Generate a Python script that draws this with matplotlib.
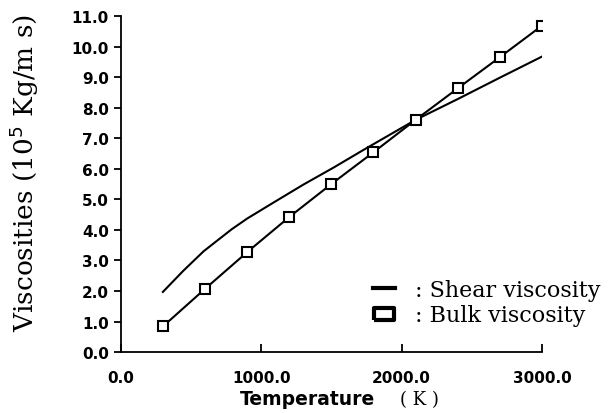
import matplotlib
matplotlib.use("Agg")
import matplotlib.pyplot as plt
from matplotlib.lines import Line2D

# Data
temp_bulk = [300, 600, 900, 1200, 1500, 1800, 2100, 2400, 2700, 3000]
bulk_visc = [0.84, 2.07, 3.27, 4.42, 5.50, 6.54, 7.60, 8.63, 9.65, 10.68]

temp_shear = [300, 445, 590, 790, 900, 1090, 1300, 1520, 1730, 2100, 2400, 2700, 3000]
shear_visc = [1.97, 2.66, 3.30, 4.02, 4.37, 4.90, 5.48, 6.05, 6.62, 7.60, 8.28, 8.98, 9.67]

xticks = [0, 1000, 2000, 3000]
yticks = list(range(0, 12))

fig = plt.figure(figsize=(6.13, 4.14), dpi=100)
ax = fig.add_axes([0.197, 0.147, 0.687, 0.812])

ax.plot(temp_shear, shear_visc, color="black", lw=1.5)
ax.plot(temp_bulk, bulk_visc, color="black", lw=1.5, marker="s", ms=7,
        mfc="white", mec="black", mew=1.5)

ax.set_xlim(0, 3000)
ax.set_ylim(0, 11)
ax.set_xticks(xticks)
ax.set_xticklabels([f"{t:.1f}" for t in xticks])
ax.set_yticks(yticks)
ax.set_yticklabels([f"{v:.1f}" for v in yticks])

for s in ["top", "right"]:
    ax.spines[s].set_visible(False)
for s in ["left", "bottom"]:
    ax.spines[s].set_linewidth(1.3)

ax.tick_params(axis="y", direction="out", length=5, width=1.3, labelsize=11)
ax.tick_params(axis="x", direction="in", length=6, width=1.3, labelsize=11, pad=13)
for lab in ax.get_xticklabels() + ax.get_yticklabels():
    lab.set_fontweight("bold")

ax.set_ylabel("Viscosities (10$^5$ Kg/m s)", family="DejaVu Serif", fontsize=19)
ax.yaxis.set_label_coords(-0.19, 0.536)

# x label: sans word + serif unit
fig.text(0.392, 0.012, "Temperature", ha="left", va="bottom",
         fontsize=13.5, fontweight="bold", family="DejaVu Sans")
fig.text(0.652, 0.012, "( K )", ha="left", va="bottom",
         fontsize=13, family="DejaVu Serif")

# wide box for the legend marker
box = [(-1, -0.6), (1, -0.6), (1, 0.6), (-1, 0.6), (-1, -0.6)]
handles = [Line2D([], [], color="black", lw=3),
           Line2D([], [], color="black", ls="", marker=box, ms=15,
                  mfc="white", mew=3)]
ax.legend(handles, [": Shear viscosity", ": Bulk viscosity"],
          loc="center left", bbox_to_anchor=(0.599, 0.147), frameon=False,
          handlelength=1.0, handletextpad=0.9, labelspacing=0.15,
          borderaxespad=0, borderpad=0,
          prop={"family": "DejaVu Serif", "size": 16})

fig.savefig("out.png", dpi=100)
